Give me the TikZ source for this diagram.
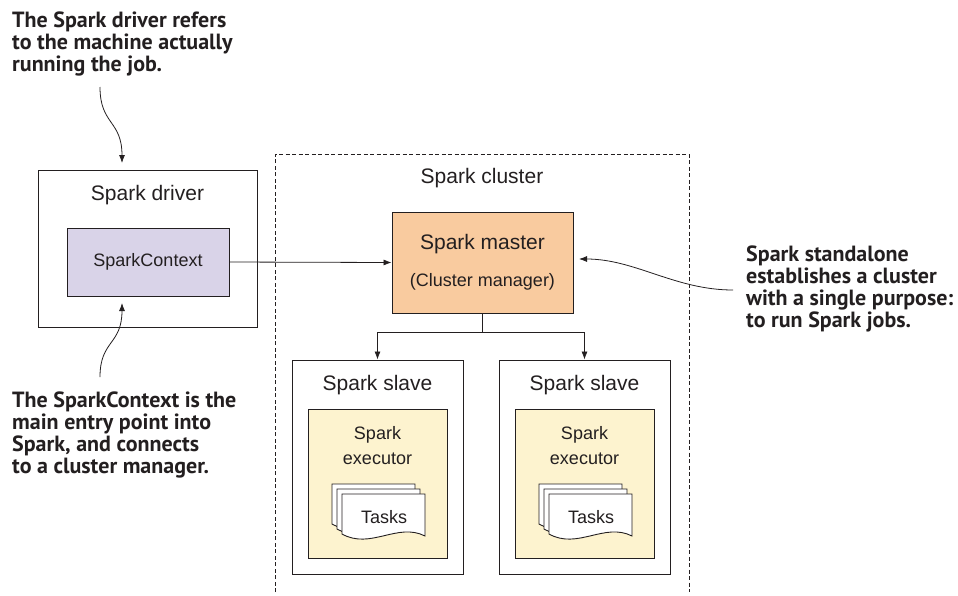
\documentclass[tikz,border=0pt]{standalone}
\usepackage{fontspec}
\setmainfont{Liberation Sans}
\newfontfamily\notefont{PT Sans}
\usetikzlibrary{arrows.meta}

\definecolor{ink}{HTML}{231F20}
\definecolor{ctxfill}{HTML}{D9D3E8}
\definecolor{masterfill}{HTML}{F9CB9F}
\definecolor{execfill}{HTML}{FDF3CF}

\begin{document}
\begin{tikzpicture}[x=1pt,y=-1pt,
  box/.style={draw=ink,line width=0.9pt,inner sep=0pt},
  lbl/.style={text=ink,inner sep=0pt,font=\fontsize{21}{25}\selectfont},
  sml/.style={text=ink,inner sep=0pt,font=\fontsize{18}{21}\selectfont},
  note/.style={text=ink,inner sep=0pt,align=left,anchor=north west,
    font=\notefont\bfseries\fontsize{22}{22}\selectfont},
  tip/.style={draw=ink,line width=0.8pt,-{Latex[length=8pt,width=6pt]}}]
  \useasboundingbox (0,0) rectangle (958,595);
  \draw[ink,line width=0.8pt,dash pattern=on 4pt off 2.5pt] (275,592) -- (275,154) -- (689,154) -- (689,592);
  \node[lbl] (clusterlbl) at (482,178) {Spark cluster};
  \node[box,minimum width=219,minimum height=157] (driver) at (147.5,248.5) {};
  \node[lbl] (driverlbl) at (147.5,195) {Spark driver};
  \node[box,fill=ctxfill,minimum width=162,minimum height=68] (ctx) at (148,262) {};
  \node[sml] at (ctx) {SparkContext};
  \node[box,fill=masterfill,minimum width=181,minimum height=101] (master) at (482.5,262.5) {};
  \node[lbl] (masterlbl) at (482.5,244) {Spark master};
  \node[sml] (masterrole) at (482.5,282) {(Cluster manager)};
  \coordinate (split) at (482.5,332);
  \draw[ink,line width=0.8pt] (master.south) -- (split);
  \foreach \s/\cx in {L/377.5,R/584.5} {
    \node[box,minimum width=171,minimum height=214] (slave\s) at (\cx,467) {};
    \node[lbl] (slavelbl\s) at (\cx,385) {Spark slave};
    \node[box,fill=execfill,minimum width=139,minimum height=149] (exec\s) at (\cx,483.5) {};
    \node[sml] (execlbl\s) at (\cx,435) {Spark};
    \node[sml] at (\cx,459) {executor};
    \foreach \d in {10,5,0}
      \draw[box,fill=white] (\cx-35.5-\d,494-\d) -- (\cx+47.5-\d,494-\d) -- (\cx+47.5-\d,536-\d)
        .. controls (\cx+20-\d,522-\d) and (\cx-7-\d,550-\d) .. (\cx-35.5-\d,534-\d) -- cycle;
    \node[sml] (tasks\s) at (\cx+6.5,517) {Tasks};
    \draw[tip] (split) -| (slave\s.north);
  }
  \draw[tip] (ctx.east) -- (master.west);
  \node[note] (notedriver) at (12,12) {The Spark driver refers\\to the machine actually\\running the job.};
  \node[note] (notectx) at (12,392) {The SparkContext is the\\main entry point into\\Spark, and connects\\to a cluster manager.};
  \node[note] (notesa) at (746,246) {Spark standalone\\establishes a cluster\\with a single purpose:\\to run Spark jobs.};
  \coordinate (drvtail) at (100,87);
  \coordinate (drvhead) at (122,163);
  \coordinate (ctxtail) at (100,377);
  \coordinate (ctxhead) at (122,303);
  \coordinate (satail) at (733,290);
  \coordinate (sahead) at (579,259);
  \draw[tip] (drvtail) .. controls (100,125) and (122,120) .. (drvhead);
  \draw[tip] (ctxtail) .. controls (100,340) and (122,345) .. (ctxhead);
  \draw[tip] (satail) .. controls (675,290) and (635,259) .. (sahead);
\end{tikzpicture}
\end{document}
